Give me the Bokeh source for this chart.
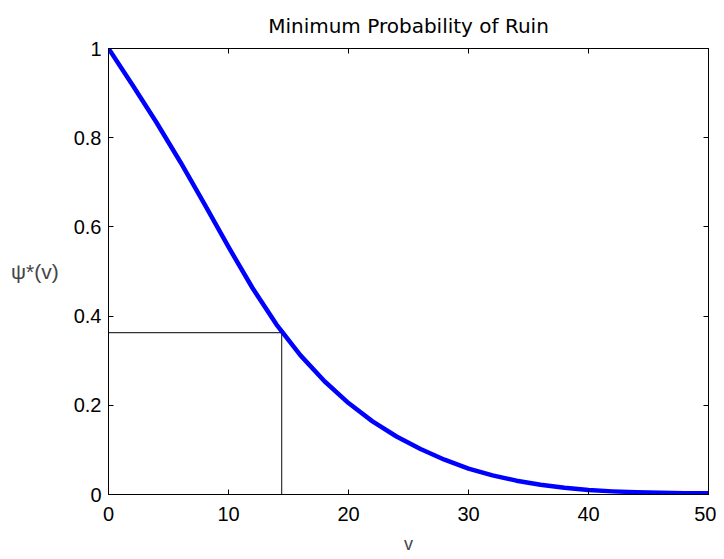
from bokeh.plotting import figure
from bokeh.models import Range1d, LinearAxis, FixedTicker, CustomJSTickFormatter
from bokeh.embed import file_html
from bokeh.resources import INLINE

# Data
v = [0, 2, 4, 6, 8, 10, 12, 14, 16, 18, 20, 22, 24, 26, 28, 30, 32, 34, 36, 38, 40, 42, 44, 46, 48, 50]
psi = [1.0, 0.918, 0.834, 0.745, 0.651, 0.555, 0.463, 0.381, 0.312, 0.254, 0.205, 0.164, 0.130, 0.102, 0.078, 0.058, 0.043, 0.031, 0.022, 0.015, 0.010, 0.007, 0.005, 0.004, 0.003, 0.003]
ref_v = 14.43
ref_psi = 0.363
x_ticks = [0, 10, 20, 30, 40, 50]
y_ticks = [0, 0.2, 0.4, 0.6, 0.8, 1.0]
title_text = "Minimum Probability of Ruin"
x_label = "v"
y_label = "ψ*(v)"

p = figure(frame_width=600, frame_height=446,
           x_range=Range1d(0, 50), y_range=Range1d(0, 1),
           output_backend="svg", toolbar_location=None,
           min_border_left=108, min_border_right=8,
           min_border_top=47, min_border_bottom=58,
           x_axis_location=None, y_axis_location=None)

p.background_fill_color = "white"
p.border_fill_color = "white"
p.outline_line_color = "black"
p.outline_line_width = 1
p.xgrid.visible = False
p.ygrid.visible = False

tick_font = "Liberation Sans"
tick_size = "20px"

def style_axis(ax, ticks, show_labels):
    ax.ticker = FixedTicker(ticks=ticks)
    ax.axis_line_color = "black"
    ax.major_tick_line_color = "black"
    ax.major_tick_in = 5
    ax.major_tick_out = 0
    ax.minor_tick_line_color = None
    ax.major_label_text_font = tick_font
    ax.major_label_text_font_size = tick_size
    ax.major_label_text_color = "black"
    if show_labels:
        ax.formatter = CustomJSTickFormatter(code="return String(Math.round(tick*10)/10);")
    else:
        ax.formatter = CustomJSTickFormatter(code="return '';")
        ax.major_label_standoff = 0

xb = LinearAxis(axis_label=x_label)
style_axis(xb, x_ticks, True)
xb.major_label_standoff = 12
xb.axis_label_text_font = tick_font
xb.axis_label_text_font_size = "18px"
xb.axis_label_text_font_style = "normal"
xb.axis_label_standoff = 10
p.add_layout(xb, "below")

yl = LinearAxis(axis_label=y_label)
style_axis(yl, y_ticks, True)
yl.major_label_standoff = 7
yl.axis_label_orientation = "horizontal"
yl.axis_label_text_font = tick_font
yl.axis_label_text_font_size = "21px"
yl.axis_label_text_font_style = "normal"
yl.axis_label_standoff = 12
p.add_layout(yl, "left")

xt = LinearAxis()
style_axis(xt, x_ticks, False)
p.add_layout(xt, "above")

yr = LinearAxis()
style_axis(yr, y_ticks, False)
p.add_layout(yr, "right")

p.title.text = title_text
p.title.align = "center"
p.title.text_font = "DejaVu Sans"
p.title.text_font_size = "20px"
p.title.text_font_style = "normal"
p.title.text_color = "black"
p.title.standoff = 22

# reference lines
p.line([0, ref_v], [ref_psi, ref_psi], line_color="#333333", line_width=1.2)
p.line([ref_v, ref_v], [0, ref_psi], line_color="#333333", line_width=1.2)

# main curve
p.line(v, psi, line_color="#0000FF", line_width=4.5, line_join="round")

open("out.html", "w").write(file_html(p, INLINE))
